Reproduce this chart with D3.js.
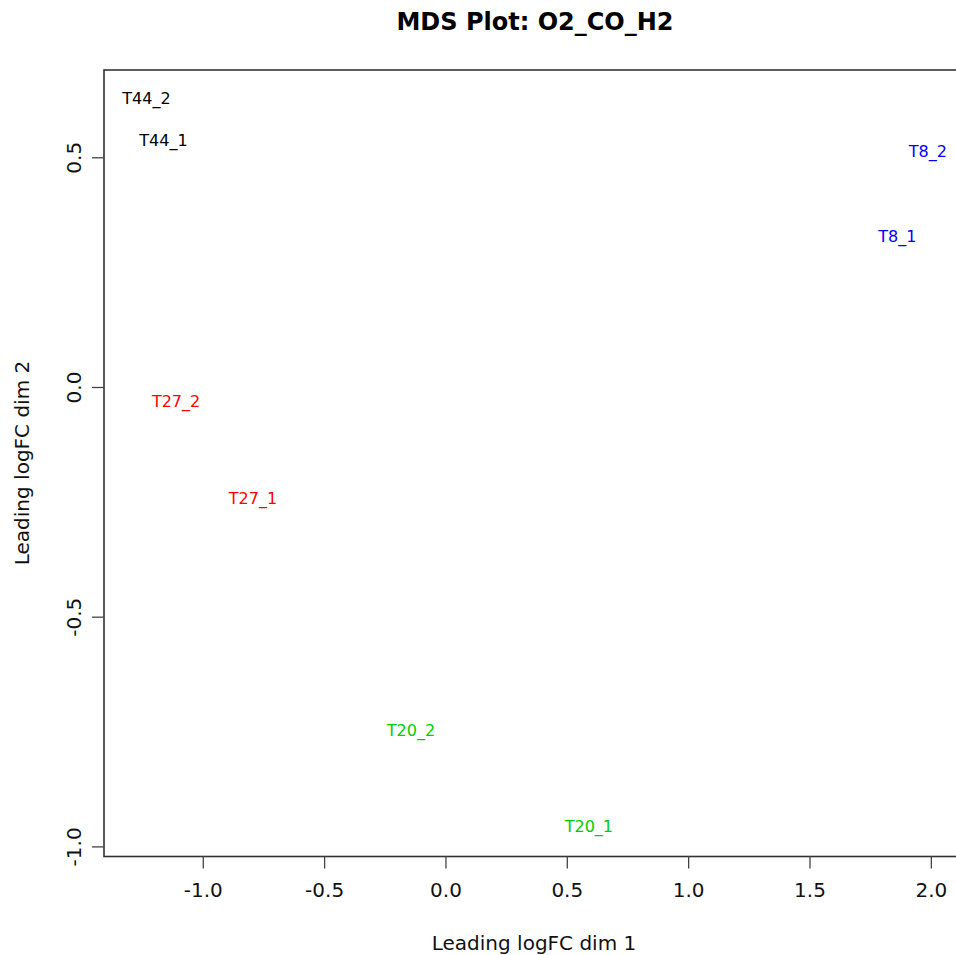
<!DOCTYPE html>
<html>
<head>
<meta charset="utf-8">
<script src="https://cdn.jsdelivr.net/npm/d3@7"></script>
<style>
  body { margin: 0; background: #fff; }
  text { font-family: "DejaVu Sans", sans-serif; }
</style>
</head>
<body>
<div id="js-d3"></div>
<script>
(function() {
  var samples, dim1, dim2, groups, groupColors, xTicks, yTicks, width, height, margin, svg, x, y, plot, fmt;

  // MDS coordinates
  samples = ['T44_2', 'T44_1', 'T8_2', 'T8_1', 'T27_2', 'T27_1', 'T20_2', 'T20_1'];
  dim1 = [-1.232, -1.162, 1.988, 1.862, -1.110, -0.793, -0.142, 0.591];
  dim2 = [0.629, 0.536, 0.512, 0.327, -0.032, -0.242, -0.748, -0.957];
  groups = ['T44', 'T44', 'T8', 'T8', 'T27', 'T27', 'T20', 'T20'];
  groupColors = { 'T44': '#000000', 'T8': '#0000FF', 'T27': '#FF0000', 'T20': '#00CD00' };

  xTicks = [-1.0, -0.5, 0.0, 0.5, 1.0, 1.5, 2.0];
  yTicks = [-1.0, -0.5, 0.0, 0.5];

  width = 956;
  height = 955;
  margin = { top: 70, right: -44, bottom: 98.5, left: 104 };

  // plain hyphen like R, not the unicode minus
  fmt = function(d) {
    return d.toFixed(1);
  };

  x = d3.scaleLinear().domain([-1.407, 2.285]).range([margin.left, width - margin.right]);
  y = d3.scaleLinear().domain([-1.022, 0.690]).range([height - margin.bottom, margin.top]);

  svg = d3.select('#js-d3').append('svg')
    .attr('width', width)
    .attr('height', height);

  // title
  svg.append('text')
    .text('MDS Plot: O2_CO_H2')
    .attr('x', 535)
    .attr('y', 30)
    .attr('text-anchor', 'middle')
    .attr('font-size', '24px')
    .attr('font-weight', 'bold')
    .attr('fill', '#000');

  // box
  svg.append('rect')
    .attr('x', x.range()[0])
    .attr('y', y.range()[1])
    .attr('width', x.range()[1] - x.range()[0])
    .attr('height', y.range()[0] - y.range()[1])
    .attr('fill', 'none')
    .attr('stroke', '#333')
    .attr('stroke-width', 1.6);

  // bottom axis
  svg.append('g')
    .attr('transform', 'translate(0,' + y.range()[0] + ')')
    .call(d3.axisBottom(x).tickValues(xTicks).tickSize(12).tickPadding(14).tickFormat(fmt))
    .call(function(g) {
      g.select('.domain').remove();
      g.selectAll('line').attr('stroke', '#444').attr('stroke-width', 1.3);
      g.selectAll('text').attr('font-size', '20px').attr('fill', '#111')
        .attr('font-family', '"DejaVu Sans", sans-serif');
    });

  // left axis
  svg.append('g')
    .attr('transform', 'translate(' + x.range()[0] + ',0)')
    .call(d3.axisLeft(y).tickValues(yTicks).tickSize(12).tickFormat(fmt))
    .call(function(g) {
      g.select('.domain').remove();
      g.selectAll('line').attr('stroke', '#444').attr('stroke-width', 1.3);
      g.selectAll('text')
        .attr('font-size', '20px')
        .attr('fill', '#111')
        .attr('font-family', '"DejaVu Sans", sans-serif')
        .attr('x', null)
        .attr('dy', null)
        .attr('text-anchor', 'middle')
        .attr('transform', 'translate(-30,0) rotate(-90)')
        .attr('y', 0)
        .attr('dominant-baseline', 'central');
    });

  // axis titles
  svg.append('text')
    .text('Leading logFC dim 1')
    .attr('x', 534)
    .attr('y', 950)
    .attr('text-anchor', 'middle')
    .attr('font-size', '20px')
    .attr('fill', '#111');

  svg.append('text')
    .text('Leading logFC dim 2')
    .attr('transform', 'translate(29,463) rotate(-90)')
    .attr('text-anchor', 'middle')
    .attr('font-size', '20px')
    .attr('fill', '#111');

  // sample labels
  plot = svg.append('g');
  plot.selectAll('text').data(samples).enter().append('text')
    .text(function(d) { return d; })
    .attr('x', function(d, i) { return x(dim1[i]); })
    .attr('y', function(d, i) { return y(dim2[i]); })
    .attr('text-anchor', 'middle')
    .attr('dominant-baseline', 'central')
    .attr('font-size', '16px')
    .attr('fill', function(d, i) { return groupColors[groups[i]]; });

}).call(this);
</script>
</body>
</html>
